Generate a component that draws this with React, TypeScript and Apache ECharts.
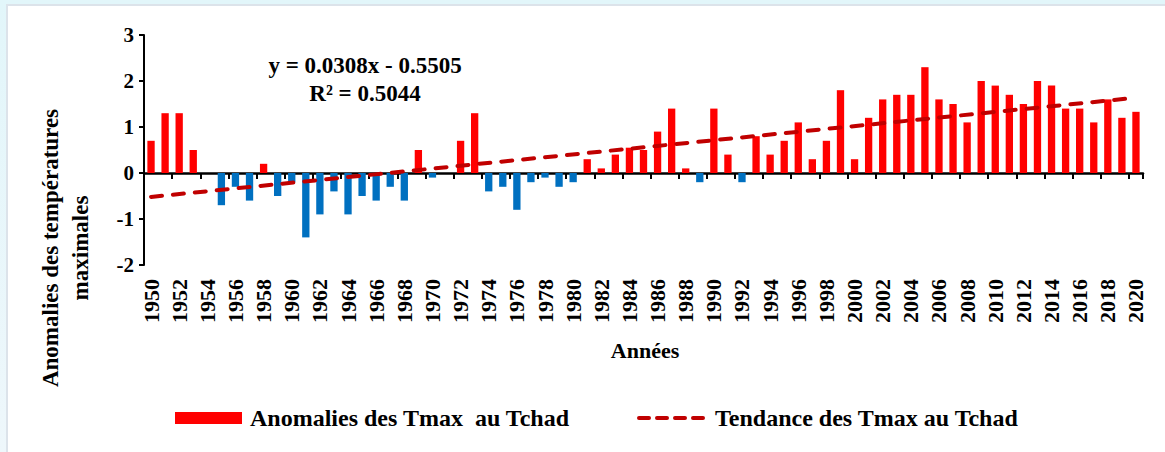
import React, { useEffect, useRef } from "react";
import * as echarts from "echarts";

const years: string[] = Array.from({ length: 71 }, (_, i) => String(1950 + i));

const anomalies: number[] = [
  0.7, 1.3, 1.3, 0.5, 0, -0.7, -0.3, -0.6, 0.2, -0.5,
  -0.2, -1.4, -0.9, -0.4, -0.9, -0.5, -0.6, -0.3, -0.6, 0.5,
  -0.1, 0, 0.7, 1.3, -0.4, -0.3, -0.8, -0.2, -0.1, -0.3,
  -0.2, 0.3, 0.1, 0.4, 0.55, 0.5, 0.9, 1.4, 0.1, -0.2,
  1.4, 0.4, -0.2, 0.8, 0.4, 0.7, 1.1, 0.3, 0.7, 1.8,
  0.3, 1.2, 1.6, 1.7, 1.7, 2.3, 1.6, 1.5, 1.1, 2.0,
  1.9, 1.7, 1.5, 2.0, 1.9, 1.4, 1.4, 1.1, 1.6, 1.2,
  1.33,
];

// Trend line end points (y = 0.0308x - 0.5505 at x=1 and x=71)
const trendStart = -0.52;
const trendEnd = 1.636;

const yTicks = { min: -2, max: 3, interval: 1 };

const barLabel = "Anomalies des Tmax  au Tchad";
const trendLabel = "Tendance des Tmax au Tchad";
const equationLine1 = "y = 0.0308x - 0.5505";
const equationLine2 = "R² = 0.5044";
const yAxisTitle = "Anomalies des températures\nmaximales";
const xAxisTitle = "Années";

const FONT = "'Times New Roman', 'Liberation Serif', serif";

export default function App() {
  const ref = useRef<HTMLDivElement>(null);

  useEffect(() => {
    if (!ref.current) return;
    const chart = echarts.init(ref.current, undefined, { renderer: "svg" });
    const trendData = years.map((_, i) =>
      i === 0 ? trendStart : i === years.length - 1 ? trendEnd : null
    );
    const textBase = {
      fontFamily: FONT,
      fontWeight: "bold",
      fill: "#000",
    };
    chart.setOption({
      animation: false,
      backgroundColor: "transparent",
      grid: { left: 144, right: 22, top: 35, bottom: 187, containLabel: false },
      xAxis: [
        {
          type: "category",
          data: years,
          axisLine: { onZero: true, lineStyle: { color: "#000", width: 2.5 } },
          axisTick: { show: true, interval: 1, length: 6, lineStyle: { color: "#000", width: 2 } },
          axisLabel: { show: false },
          splitLine: { show: false },
        },
        {
          type: "category",
          data: years,
          position: "bottom",
          axisLine: { show: false, onZero: false },
          axisTick: { show: false },
          axisLabel: {
            show: true,
            interval: 1,
            rotate: 90,
            margin: 14,
            fontFamily: FONT,
            fontWeight: "bold",
            fontSize: 22,
            color: "#000",
          },
          splitLine: { show: false },
        },
      ],
      yAxis: {
        type: "value",
        min: yTicks.min,
        max: yTicks.max,
        interval: yTicks.interval,
        axisLine: { show: true, lineStyle: { color: "#000", width: 2 } },
        axisTick: { show: true, length: 5, lineStyle: { color: "#000", width: 2 } },
        axisLabel: {
          margin: 10,
          fontFamily: FONT,
          fontWeight: "bold",
          fontSize: 21,
          color: "#000",
        },
        splitLine: { show: false },
      },
      series: [
        {
          name: barLabel,
          type: "bar",
          xAxisIndex: 0,
          data: anomalies,
          barWidth: "52%",
          itemStyle: {
            color: (p: any) => (p.value < 0 ? "#0070C0" : "#FF0000"),
          },
          z: 2,
        },
        {
          name: trendLabel,
          type: "line",
          xAxisIndex: 0,
          data: trendData,
          connectNulls: true,
          symbol: "none",
          lineStyle: { color: "#C00000", width: 4, type: [11, 11], cap: "round" },
          z: 3,
        },
      ],
      graphic: [
        {
          type: "text",
          x: 365,
          y: 65,
          style: { ...textBase, text: equationLine1, fontSize: 23, textAlign: "center", textVerticalAlign: "middle" },
        },
        {
          type: "text",
          x: 365,
          y: 93,
          style: { ...textBase, text: equationLine2, fontSize: 23, textAlign: "center", textVerticalAlign: "middle" },
        },
        {
          type: "text",
          x: 65,
          y: 248,
          rotation: Math.PI / 2,
          style: {
            ...textBase,
            text: yAxisTitle,
            fontSize: 23,
            lineHeight: 30,
            textAlign: "center",
            textVerticalAlign: "middle",
          },
        },
        {
          type: "text",
          x: 645,
          y: 350,
          style: { ...textBase, text: xAxisTitle, fontSize: 22, textAlign: "center", textVerticalAlign: "middle" },
        },
        {
          type: "rect",
          shape: { x: 175, y: 412, width: 67, height: 12 },
          style: { fill: "#FF0000" },
        },
        {
          type: "text",
          x: 250,
          y: 418,
          style: { ...textBase, text: barLabel, fontSize: 24, textAlign: "left", textVerticalAlign: "middle" },
        },
        {
          type: "line",
          shape: { x1: 639, y1: 418, x2: 707, y2: 418 },
          style: { stroke: "#C00000", lineWidth: 4, lineDash: [10, 8], lineCap: "round" },
        },
        {
          type: "text",
          x: 715,
          y: 418,
          style: { ...textBase, text: trendLabel, fontSize: 24, textAlign: "left", textVerticalAlign: "middle" },
        },
      ],
    });
    return () => chart.dispose();
  }, []);

  return (
    <div
      style={{
        position: "fixed",
        left: 0,
        top: 0,
        width: 1165,
        height: 452,
        background: "linear-gradient(180deg, #e2f6fa 0%, #eef7fb 100%)",
        overflow: "hidden",
      }}
    >
      <div
        style={{
          position: "absolute",
          left: 6,
          top: 4,
          width: 1200,
          height: 500,
          background: "#fff",
          borderLeft: "2px solid #dce3ea",
          borderTop: "2px solid #dce3ea",
        }}
      />
      <div ref={ref} style={{ position: "absolute", left: 0, top: 0, width: 1165, height: 452 }} />
    </div>
  );
}
